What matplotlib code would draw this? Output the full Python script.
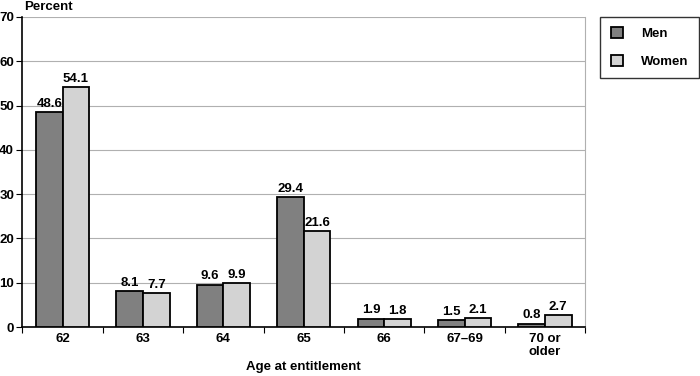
import numpy as np
import matplotlib.pyplot as plt

plt.rcParams['font.family'] = ['Liberation Sans', 'DejaVu Sans']

categories = ['62', '63', '64', '65', '66', '67\u201369', '70 or\nolder']
men = [48.6, 8.1, 9.6, 29.4, 1.9, 1.5, 0.8]
women = [54.1, 7.7, 9.9, 21.6, 1.8, 2.1, 2.7]

fs = 9.5

fig = plt.figure(figsize=(7, 3.76), dpi=100)
ax = fig.add_axes([0.032, 0.13, 0.804, 0.825])

x = np.arange(len(categories))
w = 0.33
b1 = ax.bar(x - w/2, men, w, color='#808080', edgecolor='black', linewidth=1.3, label='Men', zorder=3)
b2 = ax.bar(x + w/2, women, w, color='#d3d3d3', edgecolor='black', linewidth=1.3, label='Women', zorder=3)

for bars, vals in [(b1, men), (b2, women)]:
    for r, v in zip(bars, vals):
        ax.text(r.get_x() + r.get_width()/2, v + 0.5, f'{v:.1f}', ha='center', va='bottom',
                fontsize=fs, fontweight='bold')

ax.set_xlim(-0.5, len(categories) - 0.5)
ax.set_ylim(0, 70)
ax.set_yticks(range(0, 71, 10))
ax.yaxis.grid(True, color='#b0b0b0', linewidth=0.8, zorder=0)
ax.set_xticks(np.arange(len(categories) + 1) - 0.5, minor=False)
ax.set_xticklabels([])
ax.set_xticks(x, minor=True)
ax.set_xticklabels(categories, minor=True, fontsize=fs, fontweight='bold', linespacing=1.1)
ax.tick_params(axis='x', which='minor', length=0, pad=4)
ax.tick_params(axis='x', which='major', length=4, direction='out', color='black')
ax.tick_params(axis='y', length=4, direction='out', pad=2, labelsize=fs)
for lab in ax.get_yticklabels():
    lab.set_fontweight('bold')

ax.spines['left'].set_color('black')
ax.spines['bottom'].set_color('black')
ax.spines['left'].set_linewidth(1.2)
ax.spines['bottom'].set_linewidth(1.2)
ax.spines['top'].set_visible(False)
ax.spines['right'].set_color('#b0b0b0')

fig.text(0.433, 0.024, 'Age at entitlement', fontsize=fs, fontweight='bold', ha='center', va='center')
fig.text(0.034, 0.981, 'Percent', fontsize=fs, fontweight='bold', va='center')

leg = fig.legend(handles=[b1, b2], labels=['Men', 'Women'], loc='upper left',
                 bbox_to_anchor=(0.848, 0.973), frameon=True, fancybox=False,
                 edgecolor='black', fontsize=fs, handlelength=0.9, handleheight=0.9,
                 labelspacing=1.1, borderpad=0.8, handletextpad=1.4)
leg.get_frame().set_linewidth(1.0)
for t in leg.get_texts():
    t.set_fontweight('bold')

fig.savefig('out.png', dpi=100)
